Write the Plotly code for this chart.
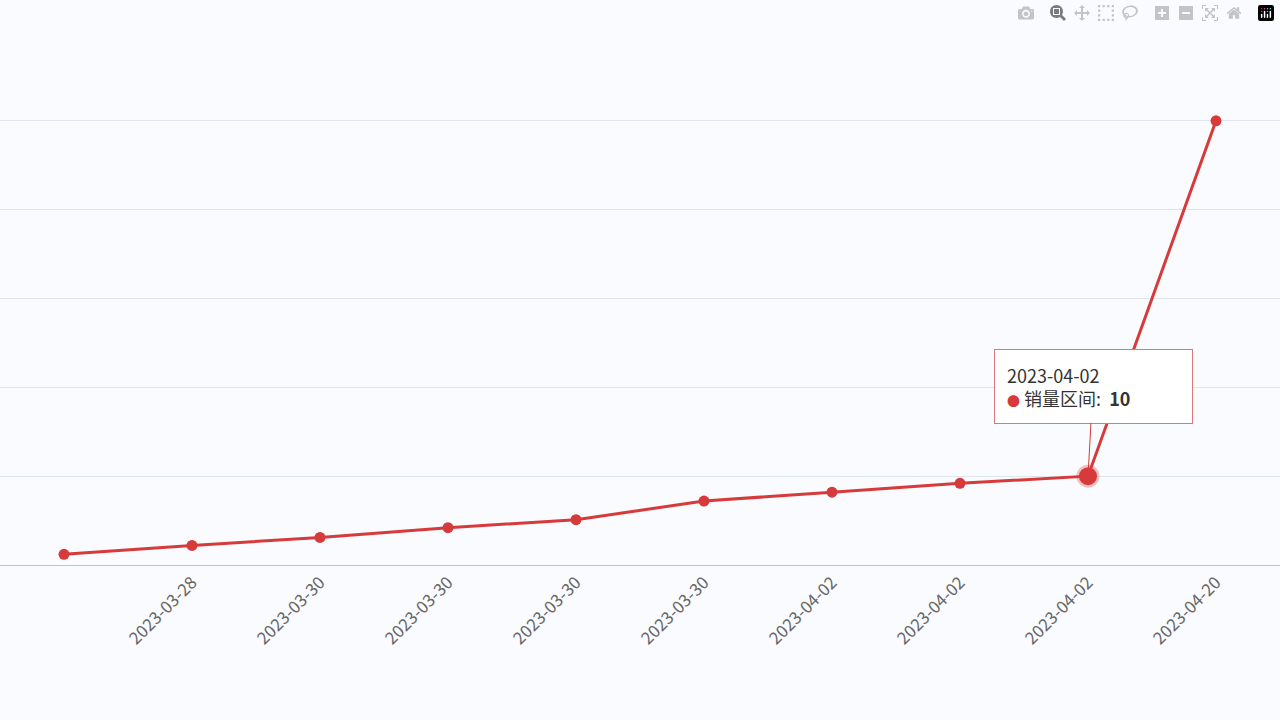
import plotly.graph_objects as go

dates = ["2023-03-28","2023-03-28","2023-03-30","2023-03-30","2023-03-30","2023-03-30","2023-04-02","2023-04-02","2023-04-02","2023-04-20"]
values = [1.2, 2.2, 3.1, 4.2, 5.1, 7.2, 8.2, 9.2, 10, 50]
idx = list(range(len(dates)))
RED = "#d63a3a"

fig = go.Figure()
fig.add_trace(go.Scatter(x=idx, y=values, mode="lines+markers",
    line=dict(color=RED, width=3), marker=dict(color=RED, size=11), showlegend=False))
fig.add_trace(go.Scatter(x=[idx[8]], y=[values[8]], mode="markers",
    marker=dict(color=RED, size=18, line=dict(color="rgba(214,58,58,0.3)", width=5)), showlegend=False))

fig.update_layout(
    width=1280, height=720, margin=dict(l=0, r=0, t=32, b=155),
    paper_bgcolor="#fafbfe", plot_bgcolor="#fafbfe",
    font=dict(family="Noto Sans CJK SC, Noto Sans", color="#555"),
    xaxis=dict(tickmode="array", tickvals=idx, ticktext=dates, tickangle=-45,
               range=[-0.5, 9.5], showgrid=False, zeroline=False,
               showline=True, linecolor="#b8c4d6", ticks="", tickfont=dict(size=17, color="#666")),
    yaxis=dict(range=[0, 60], dtick=10, showticklabels=False, gridcolor="#dfe5ef", zeroline=False),
    annotations=[dict(x=8, y=10, xref="x", yref="y", ax=5, ay=-90,
        text="2023-04-02                    <br><span style='color:#d63a3a;font-size:13px'>●</span> 销量区间:  <b>10</b>",
        align="left", showarrow=True, arrowhead=0, arrowcolor=RED, arrowwidth=1,
        bgcolor="white", bordercolor="#d9777a", borderwidth=1, borderpad=12,
        font=dict(size=18, color="#333"))],
)
fig.write_html("out.html", post_script="document.body.style.margin='0';document.body.style.background='#fafbfe';")
